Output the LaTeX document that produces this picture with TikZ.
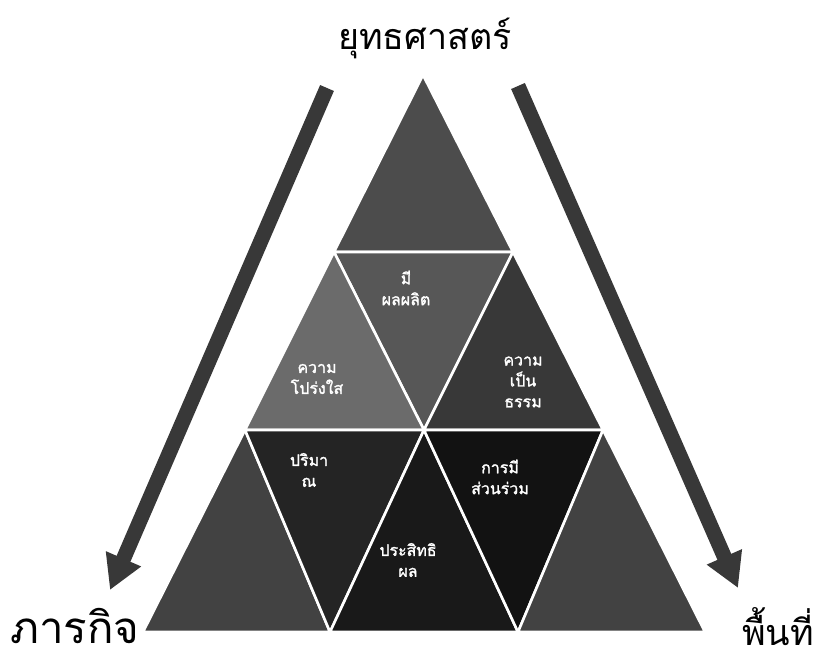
\documentclass[tikz,border=0pt]{standalone}
\usepackage{fontspec}
\newfontfamily\thai[Script=Thai]{Loma}
\newfontfamily\thaib[Script=Thai,FakeBold=1.6]{Loma}
\usetikzlibrary{arrows.meta}
\tikzset{
  tri/.style={draw=white, line width=2.6bp, line join=round},
  lbl/.style={text=white, font=\thaib\fontsize{16}{21}\selectfont, align=center, inner sep=0pt},
  bigarrow/.style={draw=black!78, line width=15bp, -{Triangle[width=36bp,length=34bp]}},
  title/.style={font=\thai\fontsize{36}{40}\selectfont, inner sep=0pt}
}
\begin{document}
\begin{tikzpicture}[x=1bp,y=-1bp]
\useasboundingbox (0,0) rectangle (819,661);
\fill[white] (0,0) rectangle (819,661);
% grid points
\coordinate (A) at (423,75);
\coordinate (L1) at (334,252);
\coordinate (R1) at (513,252);
\coordinate (L2) at (245,430);
\coordinate (M2) at (424,430);
\coordinate (R2) at (603,430);
\coordinate (B0) at (143,632);
\coordinate (B1) at (330,632);
\coordinate (B2) at (518,632);
\coordinate (B3) at (705,632);
% triangles
\filldraw[tri, fill=black!70] (A) -- (L1) -- (R1) -- cycle;
\filldraw[tri, fill=black!66] (L1) -- (R1) -- (M2) -- cycle;
\filldraw[tri, fill=black!58] (L1) -- (L2) -- (M2) -- cycle;
\filldraw[tri, fill=black!78] (R1) -- (M2) -- (R2) -- cycle;
\filldraw[tri, fill=black!74] (L2) -- (B0) -- (B1) -- cycle;
\filldraw[tri, fill=black!86] (L2) -- (M2) -- (B1) -- cycle;
\filldraw[tri, fill=black!90] (M2) -- (B1) -- (B2) -- cycle;
\filldraw[tri, fill=black!93] (M2) -- (R2) -- (B2) -- cycle;
\filldraw[tri, fill=black!74] (R2) -- (B2) -- (B3) -- cycle;
% labels in triangles
\node[lbl] (t2) at (406,288) {มี\\ผลผลิต};
\node[lbl] (t3) at (317,379) {ความ\\โปร่งใส};
\node[lbl] (t4) at (523,382) {ความ\\เป็น\\ธรรม};
\node[lbl] (t6) at (309,470) {ปริมา\\ณ};
\node[lbl] (t8) at (500,477) {การมี\\ส่วนร่วม};
\node[lbl] (t7) at (408,560) {ประสิทธิ\\ผล};
% arrows
\coordinate (la) at (327,88);
\coordinate (lb) at (110,590);
\coordinate (ra) at (518,86);
\coordinate (rb) at (738,588);
\draw[bigarrow] (la) -- (lb);
\draw[bigarrow] (ra) -- (rb);
% outer labels
\node[title] (strat) at (425,38) {ยุทธศาสตร์};
\node[title, font=\thai\fontsize{44}{48}\selectfont, anchor=base west] (mission) at (10,643) {ภารกิจ};
\node[title, font=\thai\fontsize{36}{40}\selectfont, anchor=base east] (area) at (814,645) {พื้นที่};
\end{tikzpicture}
\end{document}
